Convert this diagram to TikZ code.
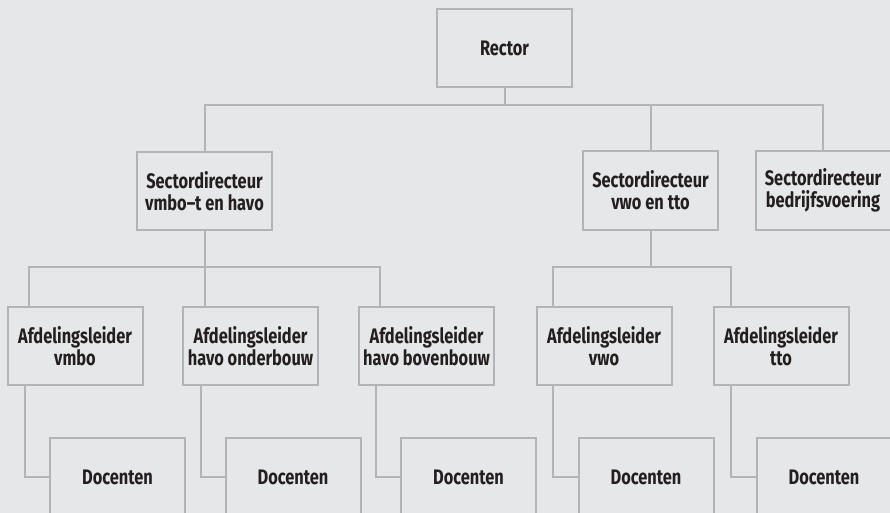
\documentclass[tikz,border=0pt]{standalone}
\usepackage{fontspec}
\setmainfont[FakeStretch=0.78]{Fira Sans}
\definecolor{bg}{HTML}{E6E7E8}
\definecolor{ln}{HTML}{B3B4B6}
\definecolor{tx}{HTML}{231F20}
\begin{document}
\begin{tikzpicture}[x=1pt,y=-1pt,
  box/.style={draw=ln, line width=2pt, fill=bg, minimum width=135pt, minimum height=78pt,
    inner sep=0pt, align=center, font=\fontsize{21}{22}\selectfont\bfseries, text=tx},
  conn/.style={draw=ln, line width=2pt}]
\clip (0,0) rectangle (890,513);
\fill[bg] (0,0) rectangle (890,513);
\useasboundingbox (0,0) rectangle (890,513);

\node[box] (R)  at (504.5,48)  {Rector};
\node[box] (S1) at (204.5,191) {Sectordirecteur\\vmbo–t en havo};
\node[box] (S2) at (650.5,190.5) {Sectordirecteur\\vwo en tto};
\node[box] (S3) at (823,190.5) {Sectordirecteur\\bedrijfsvoering};

\node[box] (A1) at (75,346)    {Afdelingsleider\\vmbo};
\node[box] (A2) at (250.5,346) {Afdelingsleider\\havo onderbouw};
\node[box] (A3) at (426.5,346) {Afdelingsleider\\havo bovenbouw};
\node[box] (A4) at (604,346)   {Afdelingsleider\\vwo};
\node[box] (A5) at (781,346)   {Afdelingsleider\\tto};

\node[box] (D1) at (117.5,477) {Docenten};
\node[box] (D2) at (293,477)   {Docenten};
\node[box] (D3) at (468.5,477) {Docenten};
\node[box] (D4) at (646,477)   {Docenten};
\node[box] (D5) at (824,477)   {Docenten};

\coordinate (h1) at (0,105);
\coordinate (h2) at (0,267);

\draw[conn] (R.south) -- (h1 -| R.south);
\draw[conn] (S1.north) |- (h1 -| R.south) -| (S3.north);
\draw[conn] (S2.north) -- (h1 -| S2.north);

\draw[conn] ([xshift=22pt]A1.north west) |- (h2 -| S1.south) -| ([xshift=22pt]A3.north west);
\draw[conn] (S1.south) -- (S1.south |- A2.north);
\draw[conn] ([xshift=17pt]A4.north west) |- (h2 -| S2.south) -| ([xshift=18pt]A5.north west);
\draw[conn] (S2.south) -- (h2 -| S2.south);

\draw[conn] ([xshift=18pt]A1.south west) |- (D1.west);
\draw[conn] ([xshift=19pt]A2.south west) |- (D2.west);
\draw[conn] ([xshift=18pt]A3.south west) |- (D3.west);
\draw[conn] ([xshift=17pt]A4.south west) |- (D4.west);
\draw[conn] ([xshift=18pt]A5.south west) |- (D5.west);
\end{tikzpicture}
\end{document}
